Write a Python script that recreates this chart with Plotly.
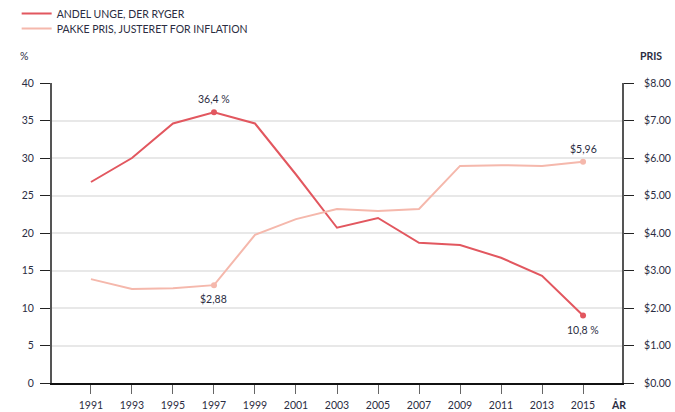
import plotly.graph_objects as go

years = [1991, 1993, 1995, 1997, 1999, 2001, 2003, 2005, 2007, 2009, 2011, 2013, 2015]
smokers_pct = [26.8, 30.0, 34.6, 36.1, 34.6, 27.8, 20.7, 22.0, 18.7, 18.4, 16.7, 14.3, 9.0]
price_usd = [2.77, 2.51, 2.53, 2.61, 3.95, 4.37, 4.64, 4.59, 4.64, 5.79, 5.81, 5.79, 5.90]
x_ticks = years
left_ticks = [0, 5, 10, 15, 20, 25, 30, 35, 40]
right_ticks = [0, 1, 2, 3, 4, 5, 6, 7, 8]

RED = "#e2575f"
PINK = "#f5b8ac"
TXT = "#2b2d42"
FONT = "Lato"

fig = go.Figure()
fig.add_trace(go.Scatter(x=years, y=smokers_pct, mode="lines", name="ANDEL UNGE, DER RYGER",
                         line=dict(color=RED, width=2), legend="legend"))
fig.add_trace(go.Scatter(x=years, y=price_usd, mode="lines", name="PAKKE PRIS, JUSTERET FOR INFLATION",
                         line=dict(color=PINK, width=2), yaxis="y2", legend="legend2"))
# highlighted points
fig.add_trace(go.Scatter(x=[years[3], years[-1]], y=[smokers_pct[3], smokers_pct[-1]], mode="markers",
                         marker=dict(color=RED, size=6), showlegend=False, hoverinfo="skip"))
fig.add_trace(go.Scatter(x=[years[3], years[-1]], y=[price_usd[3], price_usd[-1]], mode="markers",
                         marker=dict(color=PINK, size=6), showlegend=False, hoverinfo="skip", yaxis="y2"))

annotations = [
    dict(x=years[3], y=smokers_pct[3], text="36,4 %", showarrow=False, yshift=13, xref="x", yref="y"),
    dict(x=years[-1], y=smokers_pct[-1], text="10,8 %", showarrow=False, yshift=-14, xref="x", yref="y"),
    dict(x=years[3], y=price_usd[3], text="$2,88", showarrow=False, yshift=-14, xref="x", yref="y2"),
    dict(x=years[-1], y=price_usd[-1], text="$5,96", showarrow=False, yshift=13, xref="x", yref="y2"),
    dict(x=0, y=1.0, xref="paper", yref="paper", text="%", showarrow=False, xanchor="right",
         yanchor="bottom", xshift=-22, yshift=19),
    dict(x=1, y=1.0, xref="paper", yref="paper", text="<b>PRIS</b>", showarrow=False, xanchor="left",
         yanchor="bottom", xshift=16, yshift=19),
    dict(x=1, y=0, xref="paper", yref="paper", text="<b>ÅR</b>", showarrow=False, xanchor="left",
         yanchor="top", xshift=-13, yshift=-13),
]
for a in annotations:
    a["font"] = dict(family=FONT, size=10.5, color=TXT)

legend_common = dict(xanchor="left", yanchor="top", bgcolor="rgba(0,0,0,0)",
                     font=dict(family=FONT, size=10.5, color=TXT), itemwidth=30)

fig.update_layout(
    width=675, height=412,
    margin=dict(l=52, r=53, t=83, b=29, autoexpand=False),
    paper_bgcolor="white", plot_bgcolor="white",
    font=dict(family=FONT, size=10.5, color=TXT),
    showlegend=True,
    legend=dict(x=-0.062, y=1.28, **legend_common),
    legend2=dict(x=-0.062, y=1.23, **legend_common),
    xaxis=dict(range=[1989.1, 2016.9], tickvals=x_ticks, ticktext=[str(y) for y in x_ticks],
               showgrid=False, zeroline=False, showline=True, linecolor="#111", linewidth=2,
               ticks="outside", ticklen=9, tickcolor="#666", tickwidth=1, ticklabelstandoff=2),
    yaxis=dict(range=[0, 40], tickvals=left_ticks, showgrid=True, gridcolor="#e8e8e8", gridwidth=1.5,
               zeroline=False, showline=True, linecolor="#555", linewidth=2,
               ticks="outside", ticklen=10, tickcolor="#222", tickwidth=1, ticklabelstandoff=4),
    yaxis2=dict(range=[0, 8], tickvals=right_ticks, tickformat="$.2f", overlaying="y", side="right",
                showgrid=False, zeroline=False, showline=True, linecolor="#555", linewidth=2,
                ticks="outside", ticklen=10, tickcolor="#222", tickwidth=1, ticklabelstandoff=8),
    annotations=annotations,
)

fig.write_html("out.html", config={"displayModeBar": False},
               post_script="document.body.style.margin='0';document.body.style.overflow='hidden';")
